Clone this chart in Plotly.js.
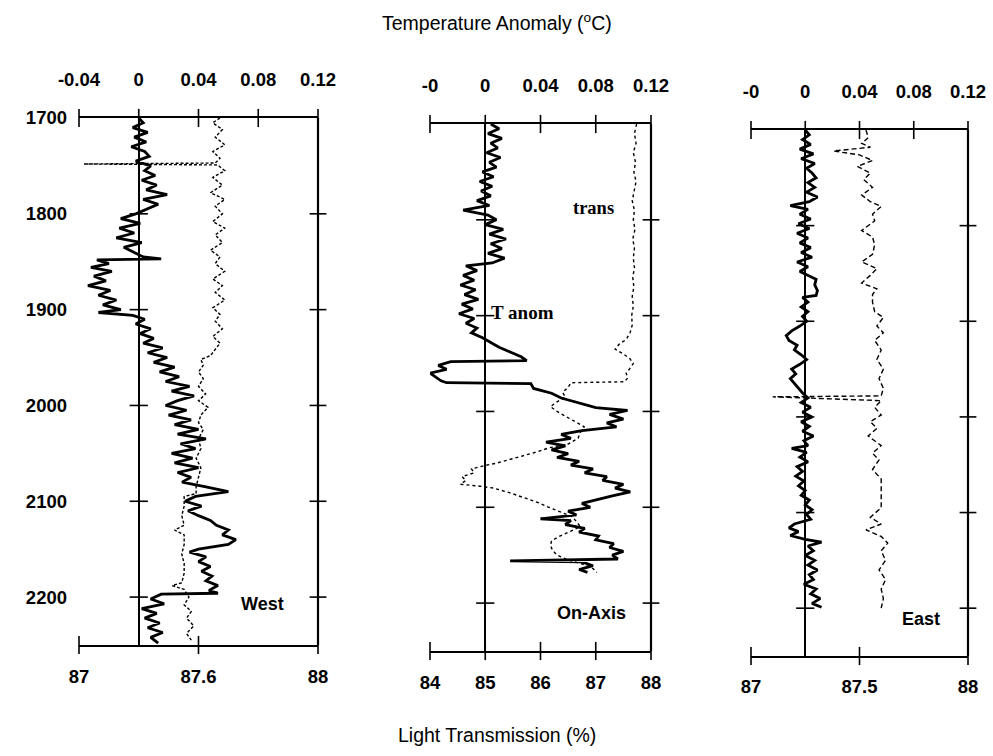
<!DOCTYPE html>
<html>
<head>
<meta charset="utf-8">
<script src="https://cdn.plot.ly/plotly-3.0.1.min.js"></script>
<style>html,body{margin:0;padding:0;background:#fff}#chart{width:993px;height:756px}</style>
</head>
<body>
<div id="chart"></div>
<script>
// ---------- DATA ----------
// West: temperature anomaly (solid) vs depth
const westDepthT = [1700,1705,1710,1715,1720,1725,1730,1735,1740,1745,1750,1755,1760,1765,1770,1775,1780,1785,1790,1795,1800,1805,1810,1815,1820,1825,1830,1835,1840,1845,1847,1848,1852,1856,1860,1865,1870,1875,1880,1885,1890,1895,1900,1903,1906,1910,1915,1920,1925,1930,1935,1940,1945,1950,1955,1960,1965,1970,1975,1980,1985,1990,1995,2000,2005,2010,2015,2020,2025,2030,2035,2040,2045,2050,2055,2060,2065,2070,2075,2080,2085,2090,2095,2100,2105,2110,2115,2120,2125,2130,2135,2140,2145,2150,2153,2158,2163,2168,2173,2178,2183,2188,2193,2196,2197,2202,2207,2212,2217,2222,2227,2232,2237,2242,2248];
const westT = [0.000,0.003,-0.004,0.006,-0.003,0.005,-0.005,0.004,0.007,-0.002,0.008,0.004,0.011,0.002,0.012,0.005,0.019,0.003,0.013,0.006,-0.002,-0.012,0.001,-0.013,-0.003,-0.015,0.002,-0.010,-0.004,0.003,0.015,-0.028,-0.020,-0.032,-0.018,-0.030,-0.022,-0.034,-0.019,-0.027,-0.015,-0.024,-0.012,-0.027,-0.004,0.004,-0.002,0.008,0.001,0.010,0.003,0.016,0.006,0.019,0.010,0.024,0.014,0.027,0.018,0.034,0.022,0.037,0.026,0.018,0.032,0.020,0.035,0.024,0.040,0.026,0.045,0.028,0.038,0.022,0.036,0.024,0.040,0.026,0.035,0.029,0.045,0.060,0.038,0.031,0.042,0.033,0.040,0.048,0.052,0.060,0.056,0.065,0.060,0.040,0.034,0.045,0.040,0.048,0.042,0.049,0.045,0.053,0.047,0.053,0.015,0.008,0.017,0.002,0.012,0.004,0.014,0.006,0.016,0.008,0.013];
// West: light transmission (dashed)
const westDepthL = [1700,1705,1712,1720,1728,1735,1742,1747,1748,1749,1755,1762,1770,1778,1785,1792,1800,1808,1815,1822,1830,1838,1845,1852,1860,1868,1875,1882,1890,1898,1905,1912,1920,1928,1935,1942,1948,1952,1958,1965,1972,1980,1988,1995,2002,2010,2018,2025,2035,2045,2055,2065,2075,2085,2092,2095,2105,2115,2125,2130,2135,2145,2155,2165,2175,2185,2188,2192,2200,2208,2215,2222,2230,2238,2245];
const westL = [87.59,87.56,87.60,87.57,87.61,87.56,87.59,87.57,87.02,87.58,87.61,87.56,87.60,87.55,87.61,87.57,87.60,87.56,87.61,87.57,87.60,87.55,87.59,87.57,87.61,87.56,87.60,87.57,87.61,87.56,87.59,87.57,87.60,87.56,87.59,87.57,87.55,87.51,87.52,87.50,87.52,87.50,87.53,87.50,87.54,87.51,87.50,87.52,87.50,87.51,87.49,87.51,87.50,87.49,87.49,87.44,87.44,87.43,87.44,87.40,87.44,87.44,87.43,87.44,87.44,87.43,87.39,87.44,87.46,87.44,87.47,87.45,87.48,87.45,87.47];

// On-Axis: temperature anomaly (solid)
const axisDepthT = [1700,1705,1710,1715,1720,1725,1730,1735,1740,1745,1750,1755,1760,1765,1770,1775,1780,1785,1790,1795,1800,1805,1810,1815,1820,1825,1830,1835,1840,1845,1848,1853,1858,1863,1868,1873,1878,1883,1888,1893,1898,1903,1908,1913,1918,1923,1928,1933,1938,1943,1947,1948,1952,1956,1960,1964,1968,1970,1971,1976,1981,1986,1991,1996,1999,2003,2008,2012,2016,2020,2024,2028,2032,2036,2040,2044,2048,2052,2056,2060,2064,2068,2072,2076,2080,2084,2088,2092,2096,2100,2104,2108,2112,2114,2118,2122,2126,2130,2134,2138,2142,2146,2150,2154,2156,2157,2161,2165,2168];
const axisT = [0.004,0.010,0.002,0.012,0.004,0.009,0.001,0.011,0.003,0.008,-0.002,0.006,-0.004,0.005,-0.003,0.004,-0.006,0.003,-0.016,0.002,0.008,0.000,0.013,0.003,0.015,0.004,0.012,0.002,0.014,0.005,-0.014,-0.006,-0.016,-0.008,-0.018,-0.007,-0.015,-0.005,-0.017,-0.009,-0.019,-0.008,-0.014,-0.006,-0.010,-0.002,0.004,0.010,0.018,0.026,0.030,-0.025,-0.034,-0.028,-0.040,-0.036,-0.032,-0.028,0.033,0.035,0.048,0.055,0.068,0.080,0.103,0.090,0.100,0.088,0.095,0.070,0.055,0.062,0.044,0.058,0.048,0.060,0.052,0.068,0.062,0.078,0.072,0.088,0.085,0.100,0.094,0.105,0.092,0.080,0.070,0.076,0.060,0.066,0.040,0.062,0.058,0.072,0.068,0.082,0.080,0.093,0.090,0.100,0.092,0.096,0.018,0.070,0.078,0.068,0.074];
// On-Axis: light transmission (dashed)
const axisDepthL = [1700,1710,1720,1730,1740,1750,1760,1770,1780,1790,1800,1810,1820,1830,1840,1850,1860,1870,1880,1890,1900,1910,1918,1925,1930,1935,1940,1945,1950,1955,1960,1965,1969,1970,1975,1980,1985,1990,1995,2000,2005,2010,2016,2022,2028,2034,2038,2042,2046,2050,2054,2057,2060,2064,2068,2072,2076,2078,2080,2085,2090,2095,2100,2105,2110,2115,2120,2125,2130,2135,2140,2145,2150,2155,2160,2164,2168];
const axisL = [87.74,87.70,87.73,87.68,87.72,87.69,87.73,87.70,87.66,87.70,87.68,87.71,87.67,87.70,87.68,87.70,87.67,87.69,87.66,87.68,87.65,87.66,87.62,87.55,87.42,87.35,87.50,87.62,87.68,87.62,87.55,87.58,87.52,86.55,86.50,86.40,86.45,86.30,86.18,86.30,86.45,86.62,86.79,86.72,86.68,86.50,86.15,85.95,85.70,85.50,85.20,84.95,84.75,84.80,84.58,84.65,84.55,84.90,85.15,85.45,85.70,85.95,86.15,86.38,86.58,86.65,86.72,86.55,86.35,86.20,86.18,86.22,86.30,86.50,86.80,86.95,87.02];

// East: temperature anomaly (solid)
const eastDepthT = [1700,1705,1710,1715,1720,1725,1730,1735,1740,1745,1750,1755,1760,1765,1770,1775,1779,1783,1788,1793,1798,1803,1808,1813,1818,1823,1828,1833,1838,1843,1848,1853,1856,1862,1868,1873,1875,1880,1885,1890,1895,1900,1905,1910,1915,1920,1925,1930,1935,1940,1945,1950,1955,1960,1965,1970,1975,1980,1985,1990,1995,2000,2005,2010,2015,2020,2025,2030,2033,2037,2042,2047,2052,2057,2062,2067,2072,2077,2082,2087,2092,2097,2102,2107,2112,2116,2120,2124,2128,2131,2135,2140,2145,2150,2155,2160,2165,2170,2175,2180,2185,2190,2195,2199];
const eastT = [0.000,0.003,-0.002,0.004,-0.004,0.006,-0.003,0.007,0.001,0.005,0.008,0.002,0.007,0.001,0.009,0.003,-0.011,0.002,-0.004,0.004,-0.005,0.003,-0.006,0.002,-0.004,0.004,-0.003,0.005,-0.006,0.002,-0.004,0.003,0.008,0.007,0.009,0.008,-0.002,0.002,-0.003,0.002,-0.002,0.001,-0.004,-0.010,-0.014,-0.012,-0.006,-0.008,-0.003,0.001,-0.004,-0.010,-0.007,-0.011,-0.008,-0.005,-0.002,0.002,-0.003,0.004,-0.002,0.005,-0.003,0.003,-0.002,0.006,-0.001,0.002,-0.010,0.001,-0.004,0.002,-0.006,-0.002,-0.007,-0.001,-0.005,0.000,-0.003,0.003,0.000,0.005,0.001,0.004,-0.008,-0.012,-0.005,-0.011,0.000,0.012,0.002,0.006,0.000,0.007,0.002,0.009,0.003,0.006,-0.001,0.008,0.004,0.011,0.005,0.012];
// East: light transmission (dashed)
const eastDepthL = [1700,1708,1714,1718,1722,1726,1732,1738,1745,1752,1760,1768,1775,1780,1788,1795,1805,1812,1820,1830,1838,1845,1852,1860,1866,1872,1880,1890,1896,1905,1912,1920,1930,1940,1950,1960,1970,1978,1979,1983,1990,1998,2005,2012,2020,2030,2038,2045,2055,2065,2075,2085,2095,2105,2112,2118,2125,2132,2140,2150,2160,2170,2180,2190,2200];
const eastL = [87.53,87.54,87.51,87.55,87.38,87.50,87.56,87.49,87.55,87.52,87.56,87.51,87.55,87.60,87.56,87.57,87.51,87.56,87.57,87.56,87.51,87.58,87.55,87.51,87.58,87.56,87.56,87.57,87.61,87.58,87.61,87.57,87.60,87.58,87.61,87.59,87.61,87.60,87.10,87.60,87.57,87.60,87.55,87.58,87.54,87.60,87.56,87.59,87.56,87.60,87.60,87.60,87.60,87.55,87.60,87.53,87.60,87.63,87.60,87.62,87.59,87.62,87.60,87.61,87.60];

// Axes: ranges and ticks
const depthRange = [2250, 1700];
const depthLabelTicks = [1700,1800,1900,2000,2100,2200];
const depthMarkTicks = [1800,1900,2000,2100,2200];
const tempRange = [-0.04, 0.12];
const tempTicks = [-0.04, 0, 0.04, 0.08, 0.12];
const tempLabelsWest = ['-0.04','0','0.04','0.08','0.12'];
const tempLabelsOther = ['-0','0','0.04','0.08','0.12'];
const transRangeWest = [87, 88];
const transTicksWest = [87, 87.5, 88];
const transLabelsWest = ['87','87.6','88'];
const transRangeAxis = [84, 88];
const transTicksAxis = [84, 85, 86, 87, 88];
const transLabelsAxis = ['84','85','86','87','88'];
const transRangeEast = [87, 88];
const transTicksEast = [87, 87.5, 88];
const transLabelsEast = ['87','87.5','88'];
const panelNames = ['West','On-Axis','East'];

// ---------- LAYOUT HELPERS ----------
const W = 993, H = 756;
const px = x => x / W;
const py = y => 1 - y / H;
const FONT = 'Liberation Sans, Arial, sans-serif';
const SERIF = 'Liberation Serif, Times New Roman, serif';

const solid = {color:'#000', width:2.8};
function dashed(d){ return {color:'#000', width:1.4, dash:d}; }

const traces = [];
function addCurve(x, y, xa, ya, line){
  traces.push({type:'scatter', mode:'lines', x:x, y:y, xaxis:xa, yaxis:ya, line:line,
    hoverinfo:'skip', showlegend:false, cliponaxis:false});
}
function addMarks(x, y, xa, ya, symbol, size){
  traces.push({type:'scatter', mode:'markers', x:x, y:y, xaxis:xa, yaxis:ya,
    marker:{symbol:symbol, size:size, color:'#000', line:{color:'#000', width:1.6}},
    hoverinfo:'skip', showlegend:false, cliponaxis:false});
}

// curves
addCurve(westL, westDepthL, 'x4', 'y', dashed('3px,2px'));
addCurve(westT, westDepthT, 'x', 'y', solid);
addCurve(axisL, axisDepthL, 'x5', 'y2', dashed('3px,3px'));
addCurve(axisT, axisDepthT, 'x2', 'y2', solid);
addCurve(eastL, eastDepthL, 'x6', 'y3', dashed('5px,3px'));
addCurve(eastT, eastDepthT, 'x3', 'y3', solid);

// crossing tick marks
const panels = [
  {t:'x', l:'x4', y:'y', lt:transTicksWest},
  {t:'x2', l:'x5', y:'y2', lt:transTicksAxis},
  {t:'x3', l:'x6', y:'y3', lt:transTicksEast}
];
panels.forEach(p => {
  addMarks(tempTicks, tempTicks.map(() => depthRange[1]), p.t, p.y, 'line-ns', 13);
  addMarks(p.lt, p.lt.map(() => depthRange[0]), p.l, p.y, 'line-ns', 13);
  addMarks(depthMarkTicks.map(() => 0), depthMarkTicks, p.t, p.y, 'line-ew', 13);
  addMarks(depthMarkTicks.map(() => tempRange[1]), depthMarkTicks, p.t, p.y, 'line-ew', 12);
});

// panel geometry (pixels)
const geo = [
  {x0:79, x1:318, y0:118, y1:645},
  {x0:430, x1:651, y0:124, y1:651},
  {x0:751, x1:968, y0:130, y1:656}
];
const tickFont = {family:FONT, size:18.5, color:'#000', weight:'bold'};

function tempAxis(g, yName, labels){
  return {domain:[px(g.x0), px(g.x1)], range:tempRange, anchor:yName, side:'top',
    tickmode:'array', tickvals:tempTicks, ticktext:labels, ticks:'', ticklabelstandoff:23,
    showline:true, linecolor:'#000', linewidth:2, showgrid:false,
    zeroline:true, zerolinecolor:'#000', zerolinewidth:1.8, tickfont:tickFont, fixedrange:true};
}
function transAxis(over, yName, range, vals, labels, standoff){
  return {overlaying:over, range:range, anchor:yName, side:'bottom',
    tickmode:'array', tickvals:vals, ticktext:labels, ticks:'', ticklabelstandoff:standoff,
    showline:true, linecolor:'#000', linewidth:2, showgrid:false, zeroline:false,
    tickfont:tickFont, fixedrange:true};
}
function depthAxis(g, xName, labels){
  return {domain:[py(g.y1), py(g.y0)], range:depthRange, anchor:xName,
    tickmode:'array', tickvals:depthLabelTicks, showticklabels:labels, ticks:'',
    ticklabelstandoff:11, showline:false, showgrid:false, zeroline:false,
    tickfont:tickFont, fixedrange:true};
}
function label(text, x, y, font){
  return {text:text, xref:'paper', yref:'paper', x:px(x), y:py(y), xanchor:'center', yanchor:'middle',
    showarrow:false, font:font};
}

const layout = {
  width:W, height:H,
  margin:{l:0, r:0, t:0, b:0},
  paper_bgcolor:'#fff', plot_bgcolor:'rgba(0,0,0,0)',
  showlegend:false,
  font:{family:FONT, color:'#000'},
  xaxis: tempAxis(geo[0], 'y', tempLabelsWest),
  xaxis2: tempAxis(geo[1], 'y2', tempLabelsOther),
  xaxis3: tempAxis(geo[2], 'y3', tempLabelsOther),
  xaxis4: transAxis('x', 'y', transRangeWest, transTicksWest, transLabelsWest, 14),
  xaxis5: transAxis('x2', 'y2', transRangeAxis, transTicksAxis, transLabelsAxis, 14),
  xaxis6: transAxis('x3', 'y3', transRangeEast, transTicksEast, transLabelsEast, 13),
  yaxis: depthAxis(geo[0], 'x', true),
  yaxis2: depthAxis(geo[1], 'x2', false),
  yaxis3: depthAxis(geo[2], 'x3', false),
  shapes: ['x','x2','x3'].map((xa, i) => ({type:'line', xref:xa + ' domain', yref:(i ? 'y' + (i + 1) : 'y') + ' domain',
    x0:1, x1:1, y0:0, y1:1, line:{color:'#000', width:2.2}})),
  annotations: [
    label('Temperature Anomaly (<sup>o</sup>C)', 497, 22, {family:FONT, size:19.5, color:'#000'}),
    label('Light Transmission (%)', 497, 735, {family:FONT, size:19.5, color:'#000'}),
    label(panelNames[0], 262, 604, {family:FONT, size:18, color:'#000', weight:'bold'}),
    label(panelNames[1], 591, 613, {family:FONT, size:18, color:'#000', weight:'bold'}),
    label(panelNames[2], 921, 619, {family:FONT, size:18, color:'#000', weight:'bold'}),
    label('trans', 593, 208, {family:SERIF, size:18.5, color:'#000', weight:'bold'}),
    label('T anom', 522, 312, {family:SERIF, size:19, color:'#000', weight:'bold'})
  ]
};

Plotly.newPlot('chart', traces, layout, {displayModeBar:false, staticPlot:true});
</script>
</body>
</html>
